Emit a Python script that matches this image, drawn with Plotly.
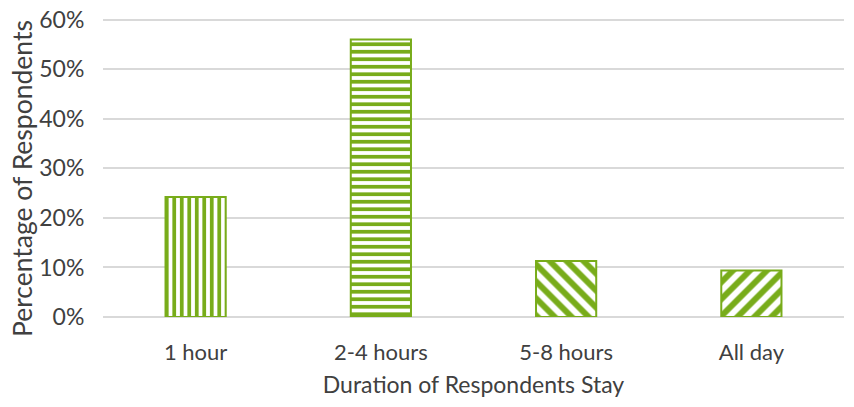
import plotly.graph_objects as go

categories = ["1 hour", "2-4 hours", "5-8 hours", "All day"]
values = [0.242, 0.560, 0.113, 0.094]
patterns = ["|", "-", "\\", "/"]
y_ticks = [0, 0.1, 0.2, 0.3, 0.4, 0.5, 0.6]
y_tick_labels = ["0%", "10%", "20%", "30%", "40%", "50%", "60%"]

green = "#78AC1A"

fig = go.Figure(go.Bar(
    x=categories,
    y=values,
    width=0.325,
    marker=dict(
        color="white",
        line=dict(color=green, width=2),
        pattern=dict(shape=patterns, fgcolor=green, bgcolor="white", fgopacity=1,
                     size=[7.5, 7.5, 12, 12], solidity=0.5, fillmode="overlay"),
    ),
))

fig.update_layout(
    width=854, height=407,
    margin=dict(l=103, r=10, t=18, b=90),
    paper_bgcolor="white", plot_bgcolor="white",
    font=dict(family="Lato, Open Sans, sans-serif", color="#404040", size=22),
    showlegend=False,
)
fig.update_xaxes(
    automargin=False,
    showgrid=False, showline=False, ticks="outside", ticklen=16, tickcolor="rgba(0,0,0,0)",
    tickfont=dict(size=22, color="#404040"),
    title=dict(text="Duration of Respondents Stay", font=dict(size=23, color="#404040"), standoff=12),
)
fig.update_yaxes(
    automargin=False, ticklabeloverflow="allow",
    range=[0, 0.6035], tickvals=y_ticks, ticktext=y_tick_labels,
    showgrid=True, gridcolor="#D9D9D9", gridwidth=1.5, zeroline=True, zerolinecolor="#D9D9D9",
    zerolinewidth=1.5, ticks="outside", ticklen=13, tickcolor="rgba(0,0,0,0)",
    tickfont=dict(size=23, color="#404040"),
)
fig.add_annotation(
    text="Percentage of Respondents", textangle=-90,
    xref="paper", yref="paper", x=-0.1093, y=0.4615,
    xanchor="center", yanchor="middle", showarrow=False,
    font=dict(size=26.5, color="#404040"),
)

fig.write_html("out.html", config={"displayModeBar": False},
               post_script="document.body.style.margin='0';")
